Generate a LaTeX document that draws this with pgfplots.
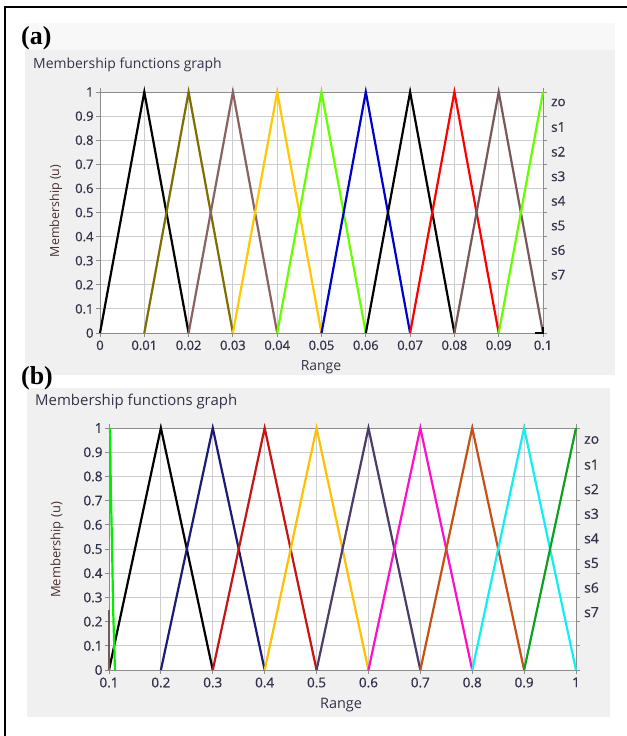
\documentclass[border=0pt]{standalone}
\usepackage{pgfplots}
\pgfplotsset{compat=1.18}
\usepackage{fontspec}
\setmainfont{Open Sans}
\newfontfamily\medfont[FakeBold=0.7]{Open Sans}
\newfontfamily\timesfont{Liberation Serif}

\definecolor{panelgray}{HTML}{F0F0F0}
\definecolor{gridgray}{HTML}{CDCDCD}
\definecolor{axgray}{HTML}{8C8C8C}
\definecolor{labcol}{HTML}{34324A}
\definecolor{ylabcol}{HTML}{4A3030}
% panel (a) colours
\definecolor{olive}{HTML}{7F6E00}
\definecolor{mauve}{HTML}{8A6262}
\definecolor{gold}{HTML}{FFC800}
\definecolor{lime}{HTML}{66FF00}
\definecolor{blueA}{HTML}{0000CC}
\definecolor{mauveB}{HTML}{785858}
% panel (b) colours
\definecolor{greenB}{HTML}{00EE00}
\definecolor{navy}{HTML}{1C1C72}
\definecolor{darkred}{HTML}{C81414}
\definecolor{goldB}{HTML}{FFC000}
\definecolor{purpleg}{HTML}{4C3C68}
\definecolor{magentaB}{HTML}{FF10C8}
\definecolor{orangeB}{HTML}{C85014}
\definecolor{cyanB}{HTML}{10F0F0}
\definecolor{greenC}{HTML}{10A020}

\pgfplotsset{
  memb/.style={
    scale only axis,
    clip=false,
    axis background/.style={fill=white},
    grid=major,
    grid style={draw=gridgray, line width=1bp},
    axis line style={draw=axgray, line width=1bp},
    tick align=outside,
    major tick length=4bp,
    tick style={draw=axgray, line width=1bp},
    ymin=0, ymax=1,
    ytick={0,0.1,0.2,0.3,0.4,0.5,0.6,0.7,0.8,0.9,1},
    yticklabels={0,0.1,0.2,0.3,0.4,0.5,0.6,0.7,0.8,0.9,1},
    /pgf/number format/assume math mode=true,
    ticklabel style={font=\medfont\fontsize{13}{15}\selectfont, text=labcol},
    yticklabel style={xshift=1bp},
    every axis plot/.append style={line width=2.2bp, mark=none},
  }
}

\begin{document}
\begin{tikzpicture}[x=1bp,y=1bp]
\useasboundingbox (0,0) rectangle (627,-736);
\fill[white] (0,0) rectangle (627,-736);
\draw[black, line width=2.5bp] (5,-736) -- (5,-7) -- (627,-7);

% panel backgrounds
\fill[white!50!panelgray] (25,-23) rectangle (615,-50);
\fill[panelgray] (25,-50) rectangle (615,-375);
\fill[panelgray] (27,-388) rectangle (610,-717);

\node[anchor=west, inner sep=0pt, font=\timesfont\bfseries\fontsize{26}{28}\selectfont] at (21,-38) {(a)};
\node[anchor=west, inner sep=0pt, font=\timesfont\bfseries\fontsize{26}{28}\selectfont] at (21,-378) {(b)};

\node[anchor=west, inner sep=0pt, text=labcol, font=\fontsize{14}{16}\selectfont] at (33,-65) {Membership functions graph};
\node[anchor=west, inner sep=0pt, text=labcol, font=\fontsize{15}{17}\selectfont] at (35,-402) {Membership functions graph};

% ---------- (a) ----------
\begin{axis}[memb,
    at={(100bp,-333bp)}, anchor=south west,
    width=443bp, height=241bp,
    xmin=0, xmax=0.1,
    xtick={0,0.01,0.02,0.03,0.04,0.05,0.06,0.07,0.08,0.09,0.1},
    xticklabels={0,0.01,0.02,0.03,0.04,0.05,0.06,0.07,0.08,0.09,0.1},
  ]
\addplot[black]  coordinates {(0,0) (0.01,1) (0.02,0)};
\addplot[olive]  coordinates {(0.01,0) (0.02,1) (0.03,0)};
\addplot[mauve]  coordinates {(0.02,0) (0.03,1) (0.04,0)};
\addplot[gold]   coordinates {(0.03,0) (0.04,1) (0.05,0)};
\addplot[lime]   coordinates {(0.04,0) (0.05,1) (0.06,0)};
\addplot[blueA]  coordinates {(0.05,0) (0.06,1) (0.07,0)};
\addplot[black]  coordinates {(0.06,0) (0.07,1) (0.08,0)};
\addplot[red]    coordinates {(0.07,0) (0.08,1) (0.09,0)};
\addplot[mauveB] coordinates {(0.08,0) (0.09,1) (0.1,0)};
\addplot[lime]   coordinates {(0.09,0) (0.1,1)};
\addplot[black]  coordinates {(0.0982,0) (0.1,0) (0.1,0.025)};
\end{axis}

\node[rotate=90, text=ylabcol, font=\fontsize{12.5}{14}\selectfont] at (56,-211) {Membership (u)};
\node[text=labcol, font=\fontsize{14}{16}\selectfont] at (321,-367) {Range};
\foreach \t [count=\i from 0] in {zo,s1,s2,s3,s4,s5,s6,s7}
  \node[anchor=west, inner sep=0pt, text=labcol, font=\medfont\fontsize{13.5}{15}\selectfont] at (551,-102.5-24.6*\i) {\t};

% ---------- (b) ----------
\begin{axis}[memb,
    at={(109bp,-670bp)}, anchor=south west,
    width=467bp, height=242bp,
    xmin=0.1, xmax=1,
    xtick={0.1,0.2,0.3,0.4,0.5,0.6,0.7,0.8,0.9,1},
    xticklabels={0.1,0.2,0.3,0.4,0.5,0.6,0.7,0.8,0.9,1},
    ticklabel style={font=\medfont\fontsize{13.5}{15}\selectfont},
  ]
\addplot[black]    coordinates {(0.1,0) (0.2,1) (0.3,0)};
\addplot[navy]     coordinates {(0.2,0) (0.3,1) (0.4,0)};
\addplot[darkred]  coordinates {(0.3,0) (0.4,1) (0.5,0)};
\addplot[goldB]    coordinates {(0.4,0) (0.5,1) (0.6,0)};
\addplot[purpleg]  coordinates {(0.5,0) (0.6,1) (0.7,0)};
\addplot[magentaB] coordinates {(0.6,0) (0.7,1) (0.8,0)};
\addplot[orangeB]  coordinates {(0.7,0) (0.8,1) (0.9,0)};
\addplot[cyanB]    coordinates {(0.8,0) (0.9,1) (1,0)};
\addplot[greenC]   coordinates {(0.9,0) (1,1)};
\addplot[mauveB]   coordinates {(0.1,0) (0.1,0.25)};
\addplot[greenB]   coordinates {(0.102,1) (0.1035,0.75) (0.106,0.5) (0.108,0.25) (0.1115,0)};
\end{axis}

\node[rotate=90, text=ylabcol, font=\fontsize{13}{15}\selectfont] at (57,-550) {Membership (u)};
\node[text=labcol, font=\fontsize{14.5}{16}\selectfont] at (341,-705) {Range};
\foreach \t [count=\i from 0] in {zo,s1,s2,s3,s4,s5,s6,s7}
  \node[anchor=west, inner sep=0pt, text=labcol, font=\medfont\fontsize{14}{16}\selectfont] at (584,-440-24.6*\i) {\t};
\end{tikzpicture}
\end{document}
